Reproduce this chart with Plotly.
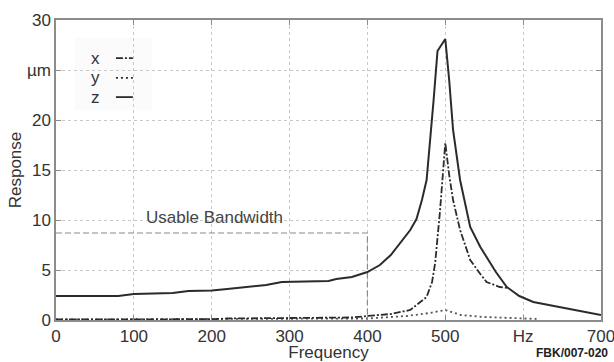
import plotly.graph_objects as go

# ---- data ----
z_freq = [0, 80, 100, 150, 170, 200, 220, 250, 270, 290, 330, 350, 360, 380, 400, 416, 430, 442, 455, 463, 470, 476, 480, 485, 490, 500, 505, 510, 519, 532, 545, 553, 565, 579, 595, 613, 620, 660, 700]
z_resp = [2.4, 2.4, 2.6, 2.7, 2.9, 2.95, 3.1, 3.3, 3.5, 3.8, 3.85, 3.9, 4.1, 4.3, 4.8, 5.5, 6.5, 7.7, 9.0, 10.1, 12.0, 14.0, 17.3, 22.0, 26.9, 28.1, 24.0, 19.0, 14.0, 9.3, 7.3, 6.3, 4.8, 3.3, 2.4, 1.8, 1.7, 1.1, 0.5]

x_freq = [0, 100, 200, 220, 300, 380, 400, 430, 455, 476, 483, 487, 493, 500, 505, 510, 519, 532, 545, 553, 570, 580]
x_resp = [0.05, 0.05, 0.08, 0.15, 0.2, 0.25, 0.4, 0.6, 1.0, 2.3, 3.8, 5.7, 10.7, 17.7, 14.5, 12.0, 9.0, 6.0, 4.6, 3.8, 3.3, 3.2]

y_freq = [0, 200, 300, 400, 450, 480, 500, 520, 550, 600, 620]
y_resp = [0.05, 0.08, 0.1, 0.15, 0.4, 0.7, 1.0, 0.5, 0.3, 0.15, 0.1]

bw_freq = [0, 400, 400]
bw_resp = [8.7, 8.7, 0]

x_tickvals = [0, 100, 200, 300, 400, 500, 600, 700]
x_ticktext = ["0", "100", "200", "300", "400", "500", "Hz", "700"]
y_tickvals = [0, 5, 10, 15, 20, 25, 30]
y_ticktext = ["0", "5", "10", "15", "20", "µm", "30"]

FONT = "Liberation Sans, Arial, sans-serif"
LINE = "#2b2b2b"

fig = go.Figure()
fig.add_trace(go.Scatter(x=bw_freq, y=bw_resp, mode="lines",
                         line=dict(color="#8a8a8a", width=1.2, dash="6px,3px")))
fig.add_trace(go.Scatter(x=y_freq, y=y_resp, mode="lines",
                         line=dict(color="#555", width=1.8, dash="2px,3px")))
fig.add_trace(go.Scatter(x=x_freq, y=x_resp, mode="lines",
                         line=dict(color=LINE, width=1.8, dash="7px,2px,2px,2px")))
fig.add_trace(go.Scatter(x=z_freq, y=z_resp, mode="lines",
                         line=dict(color=LINE, width=2)))

# legend (text first, then sample line), drawn in paper coordinates
fig.add_shape(type="rect", xref="paper", yref="paper", x0=0.035, x1=0.176, y0=0.70, y1=0.94,
              fillcolor="#fbfbfb", line=dict(width=0), layer="below")
leg = [("x", 0.873, "7px,2px,2px,2px"), ("y", 0.807, "2px,3px"), ("z", 0.743, "solid")]
for name, yy, dash in leg:
    fig.add_annotation(text=name, xref="paper", yref="paper", x=0.073, y=yy,
                       xanchor="center", yanchor="middle",
                       showarrow=False, font=dict(size=17, color="#333", family=FONT))
    fig.add_shape(type="line", xref="paper", yref="paper", x0=0.110, x1=0.141, y0=yy, y1=yy,
                  line=dict(color=LINE, width=1.8, dash=dash))

fig.add_annotation(text="Usable Bandwidth", x=204, y=10.3, showarrow=False,
                   xanchor="center", yanchor="middle",
                   font=dict(size=17, color="#444", family=FONT))
fig.add_annotation(text="<b>FBK/007-020</b>", xref="paper", yref="paper", x=1.016, y=-0.11,
                   xanchor="right", yanchor="middle", showarrow=False,
                   font=dict(size=12, color="#222", family=FONT))

axis_common = dict(showline=True, linecolor="#8c8c8c", linewidth=1.5, mirror="ticks",
                   ticks="inside", ticklen=5, tickcolor="#8c8c8c", automargin=False,
                   ticklabeloverflow="allow",
                   showgrid=True, gridcolor="#c8c8c8", griddash="dot", gridwidth=1,
                   zeroline=False, tickfont=dict(size=17, color="#333", family=FONT))

fig.update_xaxes(range=[0, 700], tickvals=x_tickvals, ticktext=x_ticktext,
                 title=dict(text="Frequency", standoff=2, font=dict(size=17, color="#333", family=FONT)),
                 **axis_common)
fig.update_yaxes(range=[0, 30], tickvals=y_tickvals, ticktext=y_ticktext,
                 title=dict(text="Response", standoff=1, font=dict(size=17, color="#333", family=FONT)),
                 **axis_common)

fig.update_layout(width=614, height=362, margin=dict(l=56, r=13, t=20, b=42),
                  plot_bgcolor="white", paper_bgcolor="white", showlegend=False,
                  font=dict(family=FONT))

# remove the page's default body margin so the figure sits at the window origin
fig.write_html("out.html", config={"displayModeBar": False},
               post_script="document.body.style.margin='0';document.body.style.overflow='hidden';")
